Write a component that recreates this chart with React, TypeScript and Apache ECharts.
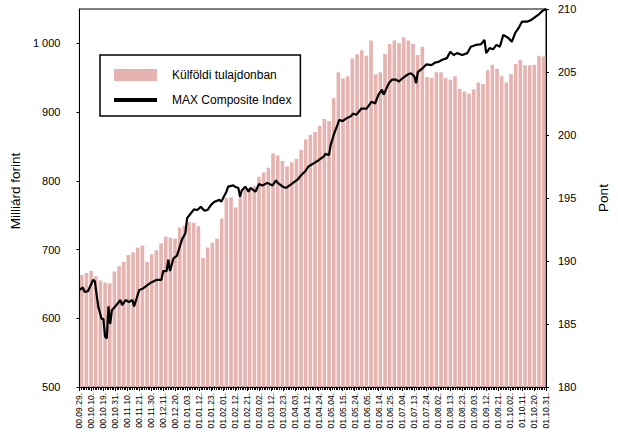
import React, { useEffect, useRef } from "react";
import * as echarts from "echarts";

const xLabels = [
  "00.09.29.", "00.10.10.", "00.10.19.", "00.10.31.", "00.11.10.", "00.11.21.", "00.11.30.", "00.12.11.",
  "00.12.20.", "01.01.03.", "01.01.12.", "01.01.23.", "01.02.01.", "01.02.12.", "01.02.21.", "01.03.02.",
  "01.03.12.", "01.03.23.", "01.04.03.", "01.04.12.", "01.04.24.", "01.05.04.", "01.05.15.", "01.05.24.",
  "01.06.05.", "01.06.14.", "01.06.25.", "01.07.04.", "01.07.13.", "01.07.24.", "01.08.02.", "01.08.13.",
  "01.08.23.", "01.09.03.", "01.09.12.", "01.09.21.", "01.10.02.", "01.10.11.", "01.10.20.", "01.10.31.",
];
const DAYS_PER_LABEL = 7;
const LAST_DAY = 273;

const barValues = [
  663, 666, 669, 661, 655, 652, 651, 668, 676, 682,
  692, 696, 703, 706, 682, 693, 699, 709, 719, 717,
  716, 732, 735, 740, 739, 734, 688, 703, 710, 716,
  745, 775, 776, 761, 777, 791, 789, 792, 806, 812,
  819, 840, 837, 829, 821, 827, 832, 845, 860, 867,
  871, 880, 890, 887, 920, 958, 949, 952, 978, 984,
  990, 982, 1004, 955, 958, 985, 999, 1004, 1000, 1009,
  1004, 999, 983, 995, 951, 950, 958, 958, 950, 947,
  952, 934, 930, 927, 933, 943, 941, 961, 969, 963,
  952, 943, 955, 970, 976, 968, 968, 969, 982, 981,
];
const barSlots = barValues.map((_, i) => String(i + 1));

const lineDays = [
  0, 2, 3, 5, 8, 9, 11, 13, 14, 15,
  16, 17, 18, 19, 21, 24, 25, 27, 29, 31,
  32, 35, 37, 39, 42, 45, 48, 49, 51, 52,
  53, 55, 57, 60, 62, 63, 65, 67, 69, 71,
  73, 75, 77, 79, 82, 83, 86, 87, 90, 91,
  93, 94, 95, 97, 99, 100, 103, 105, 107, 110,
  113, 115, 116, 119, 121, 123, 125, 128, 129, 132,
  134, 137, 140, 143, 144, 146, 147, 149, 151, 152,
  154, 156, 159, 160, 162, 165, 168, 171, 173, 175,
  177, 178, 181, 183, 185, 187, 189, 192, 194, 196,
  197, 198, 200, 203, 206, 208, 210, 212, 215, 217,
  219, 221, 224, 227, 229, 232, 235, 237, 238, 240,
  242, 244, 246, 248, 251, 253, 255, 257, 259, 262,
  264, 266, 269, 271, 273,
];
const lineValues = [
  187.7, 187.9, 187.55, 187.6, 188.5, 188.4, 186.4, 185.4, 185.4, 184.0,
  183.85, 186.4, 185.0, 186.1, 186.4, 186.9, 186.5, 186.9, 186.75, 186.9,
  186.4, 187.7, 187.8, 188.0, 188.3, 188.5, 188.5, 189.2, 189.2, 190.1,
  189.2, 190.2, 190.4, 191.7, 192.2, 193.4, 193.75, 194.1, 194.05, 194.3,
  194.0, 194.05, 194.45, 194.7, 194.85, 194.7, 195.5, 195.9, 196.0, 195.9,
  195.8, 195.1, 195.6, 195.9, 195.5, 195.8, 195.5, 196.1, 196.0, 196.2,
  196.0, 196.4, 196.2, 195.9, 195.8, 196.0, 196.2, 196.5, 196.7, 197.1,
  197.5, 197.75, 198.0, 198.3, 198.5, 198.4, 199.2, 200.1, 200.8, 201.2,
  201.1, 201.3, 201.5, 201.7, 201.6, 202.1, 202.1, 202.65, 202.5, 203.2,
  203.6, 203.2, 204.1, 204.4, 204.4, 204.25, 204.5, 204.8, 204.9, 204.65,
  204.1, 205.0, 205.2, 205.6, 205.55, 205.75, 205.8, 205.95, 206.1, 206.6,
  206.35, 206.5, 206.35, 206.5, 207.0, 207.15, 207.2, 207.55, 206.5, 206.9,
  206.8, 207.15, 207.0, 207.95, 207.7, 207.4, 208.1, 208.5, 209.0, 209.0,
  209.1, 209.3, 209.6, 209.85, 210.0,
];

const BAR_NAME = "Külföldi tulajdonban";
const LINE_NAME = "MAX Composite Index";
const FONT = "'Liberation Sans', Arial, sans-serif";

const thousands = (v: number) => String(v).replace(/\B(?=(\d{3})+(?!\d))/g, " ");

export default function App() {
  const ref = useRef<HTMLDivElement>(null);
  useEffect(() => {
    document.body.style.margin = "0";
    if (!ref.current) return;
    const chart = echarts.init(ref.current, null, { renderer: "svg" });
    const black = "#000";
    chart.setOption({
      animation: false,
      textStyle: { fontFamily: FONT },
      grid: { left: 78, right: 65, top: 9, bottom: 46, show: true, borderColor: black, borderWidth: 1 },
      legend: {
        orient: "vertical",
        left: 100,
        top: 55,
        padding: [14, 9, 10, 14],
        itemGap: 13,
        itemWidth: 43,
        itemHeight: 12,
        borderColor: black,
        borderWidth: 1.5,
        selectedMode: false,
        textStyle: { fontSize: 12, color: black, fontFamily: FONT, padding: [0, 0, 0, 10] },
        data: [
          { name: BAR_NAME, icon: "rect" },
          { name: LINE_NAME, icon: "path://M0 0H43V4H0Z", itemStyle: { color: black } },
        ],
      },
      xAxis: [
        {
          type: "value",
          min: 0,
          max: LAST_DAY,
          interval: DAYS_PER_LABEL,
          axisLine: { show: true, lineStyle: { color: black } },
          axisTick: { show: true, length: 4, lineStyle: { color: black } },
          minorTick: { show: true, splitNumber: DAYS_PER_LABEL, length: 3, lineStyle: { color: black } },
          splitLine: { show: false },
          minorSplitLine: { show: false },
          axisLabel: {
            rotate: 90,
            fontSize: 8.5,
            color: black,
            margin: 6,
            formatter: (v: number) => xLabels[Math.round(v / DAYS_PER_LABEL)] ?? "",
          },
        },
        { type: "category", data: barSlots, show: false, boundaryGap: true },
      ],
      yAxis: [
        {
          type: "value",
          min: 500,
          max: 1050,
          interval: 100,
          name: "Milliárd forint",
          nameLocation: "middle",
          nameGap: 52,
          nameTextStyle: { fontSize: 13.5, color: black, padding: [0, 0, 0, 14] },
          axisLine: { show: true, lineStyle: { color: black } },
          axisTick: { show: true, length: 3, lineStyle: { color: black } },
          splitLine: { show: false },
          axisLabel: { fontSize: 11, color: black, margin: 19, showMaxLabel: false, formatter: thousands },
        },
        {
          type: "value",
          position: "right",
          min: 180,
          max: 210,
          interval: 5,
          name: "Pont",
          nameLocation: "middle",
          nameRotate: 90,
          nameGap: 50,
          nameTextStyle: { fontSize: 13.5, color: black },
          axisLine: { show: true, lineStyle: { color: black } },
          axisTick: { show: true, length: 3, lineStyle: { color: black } },
          splitLine: { show: false },
          axisLabel: { fontSize: 11, color: black, margin: 12 },
        },
      ],
      series: [
        {
          name: BAR_NAME,
          type: "bar",
          xAxisIndex: 1,
          yAxisIndex: 0,
          data: barValues,
          barWidth: "78%",
          itemStyle: { color: "#e6b4b0" },
          z: 1,
        },
        {
          name: LINE_NAME,
          type: "line",
          xAxisIndex: 0,
          yAxisIndex: 1,
          data: lineDays.map((d, i) => [d, lineValues[i]]),
          symbol: "none",
          lineStyle: { color: black, width: 2.2 },
          itemStyle: { color: black },
          z: 3,
        },
      ],
    });
    return () => chart.dispose();
  }, []);
  return <div ref={ref} style={{ width: 618, height: 433 }} />;
}
